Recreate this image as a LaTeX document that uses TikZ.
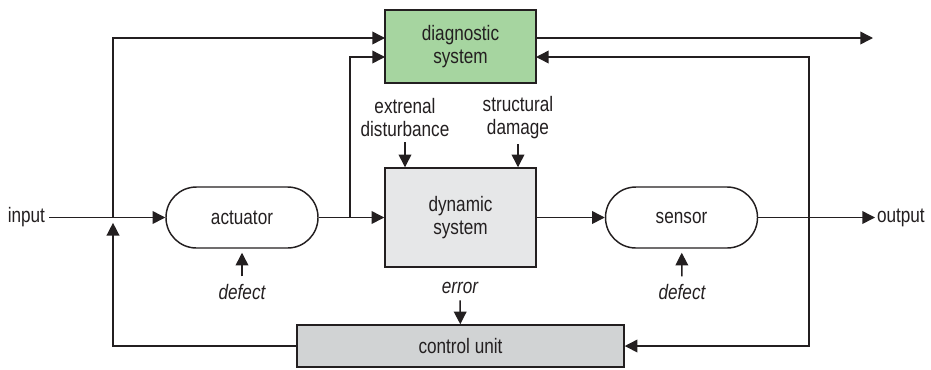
\documentclass[tikz,border=0pt]{standalone}
\usepackage{fontspec}
\setmainfont{Liberation Sans}[FakeStretch=0.82]
\usetikzlibrary{arrows.meta}
\definecolor{diaggreen}{RGB}{166,213,160}
\definecolor{dynfill}{RGB}{230,231,232}
\definecolor{ctrlfill}{RGB}{209,211,212}
\definecolor{edge}{RGB}{35,31,32}
\begin{document}
\begin{tikzpicture}[x=0.75pt,y=0.75pt,line width=1.1pt,
  box/.style={draw=edge,align=center,inner sep=0pt},
  pill/.style={box,rounded corners=22.8pt,minimum width=114pt,minimum height=45.75pt},
  lbl/.style={align=center,inner sep=0pt,outer sep=4.5pt},
  arr/.style={-{Triangle[length=9.5pt,width=9.5pt]},draw=edge}]
\tikzstyle{every node}+=[font=\fontsize{15.7}{17.3}\selectfont,text=edge]
\useasboundingbox (0,0) rectangle (931,-369);
\node [box,fill=diaggreen,minimum width=113.25pt,minimum height=54.75pt] (diag) at (460.5,-46.5) {diagnostic\\system};
\node [box,fill=dynfill,minimum width=113.25pt,minimum height=74.25pt] (dyn) at (460.5,-217.5) {dynamic\\system};
\node [box,fill=ctrlfill,minimum width=245.25pt,minimum height=31.5pt] (ctrl) at (460.5,-346) {control unit};
\node [pill] (act) at (242,-217.5) {actuator};
\node [pill] (sens) at (681.5,-217.5) {sensor};
\node [lbl,anchor=east,outer sep=3pt] (inp) at (49,-217.5) {input};
\node [lbl,anchor=west,outer sep=1.5pt] (outp) at (875,-217.5) {output};
\node [lbl,outer sep=4pt] (ext) at (405,-117.5) {extrenal\\disturbance};
\node [lbl,outer sep=4pt] (dmg) at (518,-117.5) {structural\\damage};
\node [lbl,font=\fontsize{15.7}{17.3}\selectfont\itshape,outer sep=6pt] (defa) at (242,-292) {defect};
\node [lbl,font=\fontsize{15.7}{17.3}\selectfont\itshape,outer sep=6pt] (defs) at (682,-292) {defect};
\node [lbl,font=\fontsize{15.7}{17.3}\selectfont\itshape,outer sep=5pt] (err) at (460,-288) {error};
\coordinate (jl) at (113,-217.5);
\coordinate (ja) at (350,-217.5);
\coordinate (jr) at (809,-217.5);
\coordinate (dina) at (385,-38);
\coordinate (dinb) at (385,-57);
\coordinate (douta) at (536,-38);
\coordinate (dinc) at (536,-57);
\coordinate (dend) at (873,-38);
\draw [arr] (inp) -- (act);
\draw [arr] (act) -- (dyn);
\draw [arr] (dyn) -- (sens);
\draw [arr] (sens) -- (outp);
\draw [arr] (jl) |- (dina);
\draw [arr] (ja) |- (dinb);
\draw [arr] (douta) -- (dend);
\draw [arr] (jr) |- (dinc);
\draw [arr] (jr) |- (ctrl);
\draw [arr,shorten >=4pt] (ctrl) -| (jl);
\draw [arr] (ext) -- (ext |- dyn.north);
\draw [arr] (dmg) -- (dmg |- dyn.north);
\draw [arr,shorten >=3pt] (defa) -- (act);
\draw [arr,shorten >=3pt] (defs) -- (sens);
\draw [arr] (err) -- (ctrl);
\end{tikzpicture}
\end{document}
